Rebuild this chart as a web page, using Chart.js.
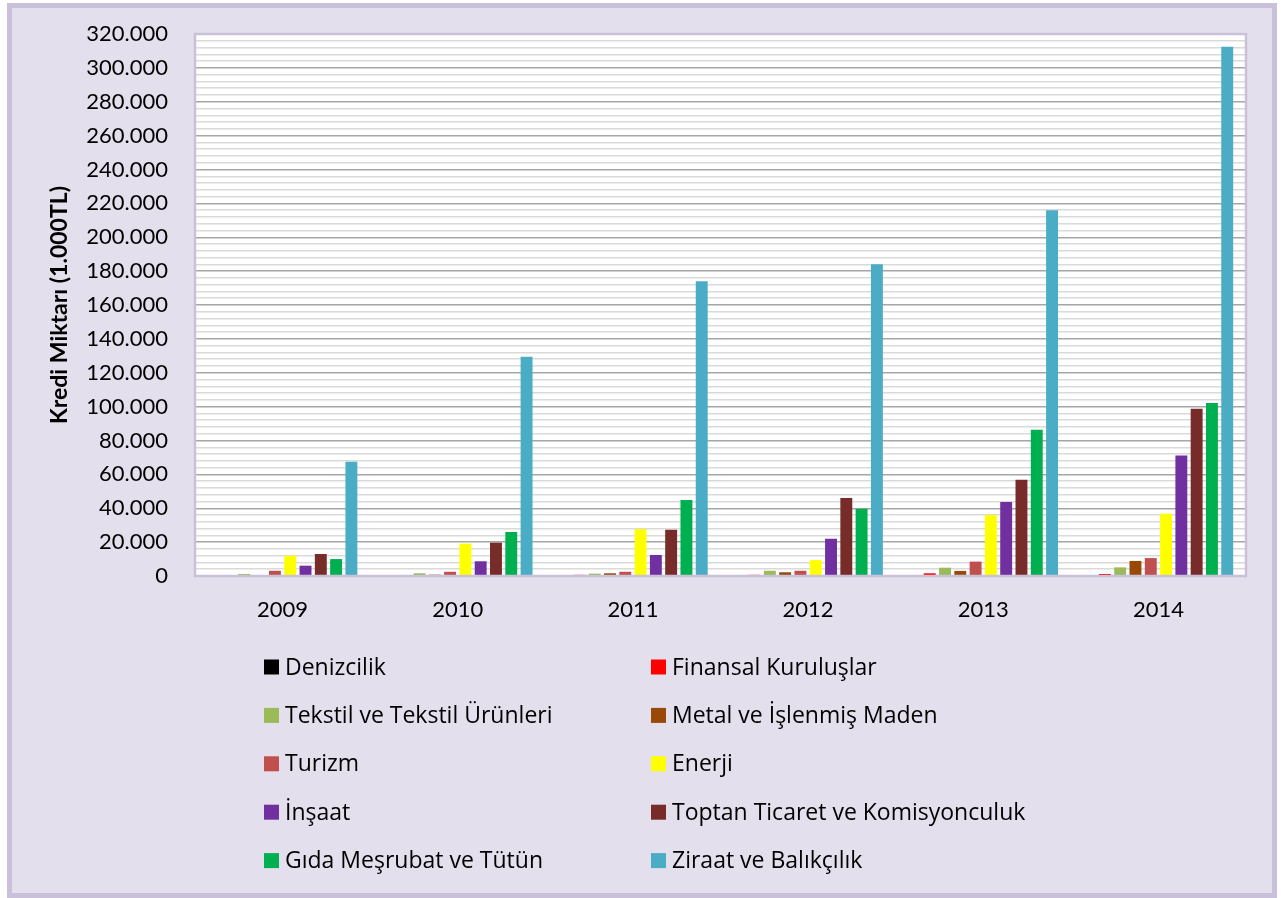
<!DOCTYPE html>
<html>
<head>
<meta charset="utf-8">
<script src="https://cdn.jsdelivr.net/npm/chart.js@4.4.1/dist/chart.umd.min.js"></script>
<style>
html,body{margin:0;padding:0;background:#fff;}
#wrap{position:absolute;left:0;top:0;width:1281px;height:898px;}
</style>
</head>
<body>
<div id="wrap"><canvas id="c" width="1281" height="898"></canvas></div>
<script>
const years = ['2009','2010','2011','2012','2013','2014'];
const seriesNames = ['Denizcilik','Finansal Kuruluşlar','Tekstil ve Tekstil Ürünleri','Metal ve İşlenmiş Maden','Turizm','Enerji','İnşaat','Toptan Ticaret ve Komisyonculuk','Gıda Meşrubat ve Tütün','Ziraat ve Balıkçılık'];
const seriesColors = ['#000000','#FF0000','#9BBB59','#984807','#C0504D','#FFFF00','#7030A0','#772C2A','#00B050','#4BACC6'];
const denizcilik = [0,0,0,0,0,0];
const finansal = [0,0,700,700,1600,1200];
const tekstil = [1200,1600,1400,3100,4900,5100];
const metal = [600,800,1600,2200,3000,8900];
const turizm = [3100,2500,2500,3100,8500,10600];
const enerji = [12000,19100,27700,9400,36000,36800];
const insaat = [6100,8700,12400,22000,43700,71200];
const toptan = [13000,19700,27300,46000,56800,98700];
const gida = [10000,26000,44900,39700,86300,102100];
const ziraat = [67500,129500,174000,184100,216000,312500];
const yMax = 320000, yMajor = 20000, yMinor = 4000;
const yTitle = 'Kredi Miktarı (1.000TL)';

const allSeries = [denizcilik,finansal,tekstil,metal,turizm,enerji,insaat,toptan,gida,ziraat];
const FONT = 'Lato';
const LFONT = '"Open Sans"';

function fmt(v){ if(v===0) return '0'; return Math.round(v/1000)+'.000'; }

const framePlugin = {
  id:'frame',
  beforeDraw(chart){
    const ctx = chart.ctx, a = chart.chartArea;
    ctx.save();
    ctx.fillStyle = '#ffffff';
    ctx.fillRect(0,0,chart.width,chart.height);
    ctx.fillStyle = '#E4DFEC';
    ctx.fillRect(9,5,1266,891);
    ctx.strokeStyle = '#CBC0DA';
    ctx.lineWidth = 5;
    ctx.strokeRect(9.5,5.5,1265,890);
    ctx.fillStyle = '#ffffff';
    ctx.fillRect(a.left,a.top,a.right-a.left,a.bottom-a.top);
    ctx.restore();
  },
  afterDatasetsDraw(chart){
    const ctx = chart.ctx, a = chart.chartArea;
    ctx.save();
    ctx.strokeStyle = '#CBC0DA';
    ctx.lineWidth = 2.5;
    ctx.strokeRect(a.left,a.top,a.right-a.left,a.bottom-a.top);
    ctx.restore();
  }
};

const legendPlugin = {
  id:'gridLegend',
  afterDraw(chart){
    const ctx = chart.ctx;
    const colX = [264, 651];
    const rowY0 = 667, rowStep = 48.4;
    ctx.save();
    ctx.font = '23px ' + LFONT;
    ctx.textBaseline = 'middle';
    ctx.textAlign = 'left';
    chart.data.datasets.forEach((ds,i)=>{
      const col = i % 2, row = Math.floor(i/2);
      const x = colX[col], y = rowY0 + row*rowStep;
      ctx.fillStyle = ds.backgroundColor;
      ctx.fillRect(x, y-7.5, 15, 15);
      ctx.fillStyle = '#000';
      ctx.fillText(ds.label, x+21, y+1);
    });
    ctx.restore();
  }
};

new Chart(document.getElementById('c'), {
  type:'bar',
  data:{
    labels: years,
    datasets: seriesNames.map((n,i)=>({
      label:n,
      data: allSeries[i],
      backgroundColor: seriesColors[i],
      borderWidth:0,
      categoryPercentage:0.873,
      barPercentage:0.78
    }))
  },
  options:{
    responsive:false,
    animation:false,
    layout:{padding:{left:40,top:34,right:35,bottom:272}},
    plugins:{legend:{display:false},tooltip:{enabled:false}},
    scales:{
      x:{
        grid:{display:false,drawTicks:false},
        border:{display:false},
        ticks:{color:'#000',font:{family:FONT,size:22},padding:21},
        afterFit(s){ s.height = 50; s.paddingLeft = 0; s.paddingRight = 0; }
      },
      y:{
        min:0,max:yMax,
        grid:{
          drawTicks:false,
          color:(c)=> (c.tick && c.tick.value % yMajor === 0) ? '#A6A6A6' : '#DADADA',
          lineWidth:1.5
        },
        border:{display:false},
        ticks:{
          stepSize:yMinor,autoSkip:false,color:'#000',
          font:{family:FONT,size:22},padding:27,
          callback:(v)=> (v % yMajor === 0) ? fmt(v) : ''
        },
        title:{display:true,text:yTitle,color:'#000',font:{family:FONT,size:23,weight:'bold'},padding:{top:6,bottom:0}},
        afterFit(s){ s.width = 155; s.paddingTop = 0; s.paddingBottom = 0; }
      }
    }
  },
  plugins:[framePlugin,legendPlugin]
});
</script>
</body>
</html>
